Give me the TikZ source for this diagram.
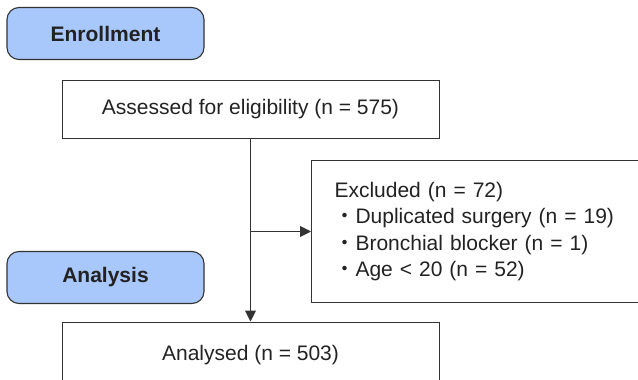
\documentclass[tikz,border=0pt]{standalone}
\usepackage{fontspec}
\setmainfont{Liberation Sans}
\newfontfamily\cjk{Noto Sans CJK JP}
\usetikzlibrary{arrows.meta, positioning}

\definecolor{stageblue}{HTML}{A8C7FA}
\definecolor{linegray}{HTML}{333333}
\definecolor{textgray}{HTML}{222222}

\begin{document}
\begin{tikzpicture}[
    x=1pt, y=-1pt,
    font=\fontsize{21}{26.5}\selectfont,
    text=textgray,
    stage/.style={rectangle, draw=linegray, fill=stageblue, line width=1.1pt, rounded corners=12pt, minimum width=197pt, minimum height=52pt, align=center, font=\fontsize{21}{26.5}\selectfont\bfseries},
    box/.style={rectangle, draw=linegray, line width=1pt, align=center, inner sep=0pt},
    arrow/.style={draw=linegray, line width=1pt, -{Triangle[length=11pt, width=11pt]}}
]
\useasboundingbox (0,0) rectangle (638,380);
\clip (0,0) rectangle (638,380);

% Stages
\node (enroll) [stage] at (105.5,33.5) {Enrollment};
\node (analysis) [stage] at (105.5,277.5) {Analysis};

% Boxes
\node (assess) [box, minimum width=377pt, minimum height=58pt] at (250.5,109) {Assessed for eligibility (n = 575)};
\node (excl) [box, anchor=west, text width=354pt, inner xsep=23pt, align=left, minimum height=142pt] at (311,231.5)
    {Excluded (n = 72)\\
     {\cjk ・}Duplicated surgery (n = 19)\\
     {\cjk ・}Bronchial blocker (n = 1)\\
     {\cjk ・}Age < 20 (n = 52)};
\node (analysed) [box, minimum width=377pt, minimum height=66pt] at (250.5,355) {Analysed (n = 503)};

% Arrows
\coordinate (branch) at (assess.south |- excl.west);
\draw [arrow] (assess.south) -- (analysed.north);
\draw [arrow] (branch) -- (excl.west);

\end{tikzpicture}
\end{document}
